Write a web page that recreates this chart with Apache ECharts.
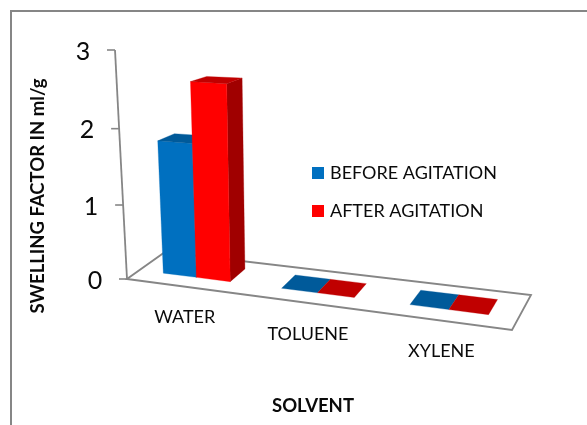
<!DOCTYPE html>
<html><head><meta charset="utf-8">
<style>html,body{margin:0;padding:0;background:#fff}#c{width:587px;height:425px}</style>
<script src="https://cdn.jsdelivr.net/npm/echarts@6/dist/echarts.min.js"></script>
</head><body><div id="c"></div>
<script>
var categories = ['WATER', 'TOLUENE', 'XYLENE'];
var beforeAgitation = [1.8, 0, 0];
var afterAgitation = [2.6, 0, 0];
var yTicks = [0, 1, 2, 3];
var yName = 'SWELLING FACTOR IN ml/g';
var xName = 'SOLVENT';

var FONT = 'Lato, "Open Sans", sans-serif';
var AXIS = '#868686';
var INK = '#0a0a0a';
// screen corners of the 3D box: [u][d] for floor and for the top plane (value 3)
var FLOOR = [[[127,279],[165,252]],[[512,330],[531,295]]];
var TOP = [[[115,50],[155,42]],[[530,71],[551,55]]];
function warp(t, a){ return a*t*t + (1-a)*t; }
function lerp(p, q, t){ return [p[0]+(q[0]-p[0])*t, p[1]+(q[1]-p[1])*t]; }
// grid coordinates from the ECharts scales -> oblique perspective view
function project(pt, sys, d){
  var u = warp((pt[0]-sys.x)/sys.width, 0.12);
  var v = warp((sys.y+sys.height-pt[1])/sys.height, 0.046);
  var fl = lerp(lerp(FLOOR[0][0],FLOOR[1][0],u), lerp(FLOOR[0][1],FLOOR[1][1],u), d);
  var tp = lerp(lerp(TOP[0][0],TOP[1][0],u), lerp(TOP[0][1],TOP[1][1],u), d);
  return lerp(fl, tp, v);
}
function poly(points, fill){
  return {type:'polygon', shape:{points:points}, style:{fill:fill, stroke:fill, lineWidth:0.3}};
}
function bar3d(side, colors){
  return function(params, api){
    var sys = params.coordSys;
    var i = api.value(0), val = api.value(1);
    var w = api.size([1,0])[0]*0.288;
    var c = api.coord([i,0]), t = api.coord([i,val]);
    var x0 = side < 0 ? c[0]-w : c[0], x1 = side < 0 ? c[0] : c[0]+w;
    var D0 = 0.33, D1 = 0.77;
    var p = function(x,y,d){ return project([x,y],sys,d); };
    var kids = [];
    if (val > 0) {
      kids.push(poly([p(x1,c[1],D0),p(x1,c[1],D1),p(x1,t[1],D1),p(x1,t[1],D0)], colors[2]));
      kids.push(poly([p(x0,c[1],D0),p(x1,c[1],D0),p(x1,t[1],D0),p(x0,t[1],D0)], colors[0]));
    }
    kids.push(poly([p(x0,t[1],D0),p(x1,t[1],D0),p(x1,t[1],D1),p(x0,t[1],D1)], colors[1]));
    return {type:'group', children:kids};
  };
}
function frame(params, api){
  var sys = params.coordSys;
  var x0 = sys.x, x1 = sys.x+sys.width, y0 = sys.y+sys.height;
  var kids = [{type:'polygon', shape:{points:[
      project([x0,y0],sys,0),project([x1,y0],sys,0),project([x1,y0],sys,1),project([x0,y0],sys,1)]},
      style:{fill:'#fff',stroke:AXIS,lineWidth:1.8}}];
  var s = project([x0,y0],sys,0), e = project([x0,sys.y],sys,0);
  kids.push({type:'line',shape:{x1:s[0],y1:s[1],x2:e[0],y2:e[1]},style:{stroke:AXIS,lineWidth:1.8}});
  yTicks.forEach(function(v){
    var q = project([x0, api.coord([0,v])[1]], sys, 0);
    kids.push({type:'line',shape:{x1:q[0]-8,y1:q[1],x2:q[0],y2:q[1]},style:{stroke:AXIS,lineWidth:1.6}});
    kids.push({type:'text',style:{text:String(v),x:q[0]-32,y:q[1]+1.5,align:'center',verticalAlign:'middle',
      font:'25px '+FONT,fill:INK}});
  });
  categories.forEach(function(n,i){
    var q = project(api.coord([i,0]), sys, 0);
    kids.push({type:'text',style:{text:n,x:q[0],y:q[1]+31,align:'center',verticalAlign:'middle',
      font:'18px '+FONT,fill:INK}});
  });
  return {type:'group',children:kids};
}
var chart = echarts.init(document.getElementById('c'));
chart.setOption({
  animation:false,
  backgroundColor:'#fff',
  grid:{left:127,top:50,width:385,height:229},
  xAxis:{type:'category',data:categories,show:false},
  yAxis:{type:'value',min:0,max:3,interval:1,show:false},
  legend:{orient:'vertical',left:312,top:164,padding:0,itemWidth:12,itemHeight:12,itemGap:20,
    data:['BEFORE AGITATION','AFTER AGITATION'],icon:'rect',
    textStyle:{fontFamily:FONT,fontSize:18,lineHeight:12,color:INK,padding:[0,0,0,1]}},
  graphic:[
    {type:'rect',shape:{x:11,y:11,width:600,height:440},style:{fill:'none',stroke:AXIS,lineWidth:2},z:-1},
    {type:'text',x:38,y:196,rotation:Math.PI/2,style:{text:yName,align:'center',verticalAlign:'middle',
      font:'bold 18.5px '+FONT,fill:INK}},
    {type:'text',x:313,y:406,style:{text:xName,align:'center',verticalAlign:'middle',
      font:'bold 18.5px '+FONT,fill:INK}}
  ],
  series:[
    {type:'custom',name:'frame',data:[[0,0]],renderItem:frame,silent:true,z:1},
    {type:'custom',name:'BEFORE AGITATION',itemStyle:{color:'#0070C0'},z:2,
     data:beforeAgitation.map(function(v,i){return [i,v];}),
     renderItem:bar3d(-1,['#0070C0','#005A9A','#004C84'])},
    {type:'custom',name:'AFTER AGITATION',itemStyle:{color:'#FF0000'},z:3,
     data:afterAgitation.map(function(v,i){return [i,v];}),
     renderItem:bar3d(1,['#FF0000','#C00000','#A00000'])}
  ]
});
</script></body></html>
